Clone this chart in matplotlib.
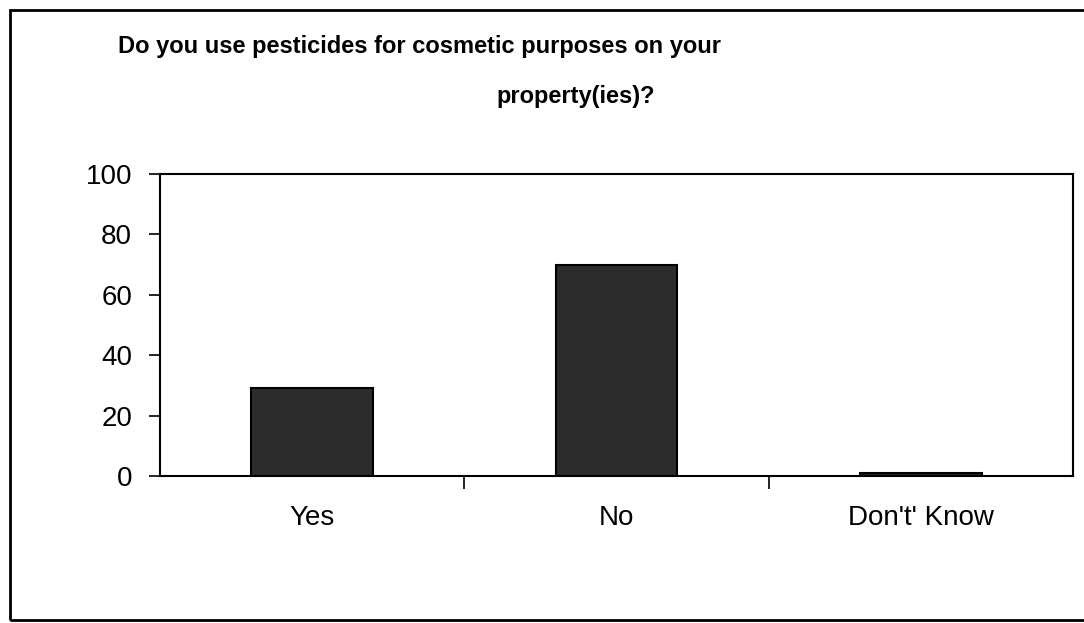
import matplotlib.pyplot as plt
from matplotlib.patches import Rectangle

# survey answers (%)
categories = ['Yes', 'No', "Don't' Know"]
values = [29, 70, 1]
yticks = [0, 20, 40, 60, 80, 100]

plt.rcParams['font.family'] = ['Liberation Sans', 'DejaVu Sans']

fig = plt.figure(figsize=(10.84, 6.23), dpi=100)
ax = fig.add_axes([160/1084, 1-476/623, (1073-160)/1084, (476-174)/623])

x = list(range(len(categories)))
ax.bar(x, values, width=0.4, color='#2c2c2c', edgecolor='black', linewidth=1.5)

ax.set_xlim(-0.5, len(categories)-0.5)
ax.set_ylim(0, 100)
ax.set_yticks(yticks)
ax.tick_params(axis='y', direction='out', length=8, width=1.2, pad=12, labelsize=20)

# labels at the centres, tick marks between the categories
ax.set_xticks(x)
ax.set_xticklabels(categories)
ax.tick_params(axis='x', which='major', length=0, pad=21, labelsize=20)
ax.set_xticks([i + 0.5 for i in x[:-1]], minor=True)
ax.tick_params(axis='x', which='minor', direction='out', length=9, width=1.2)

for s in ax.spines.values():
    s.set_linewidth(1.5)

# title lines sit at different centres in the original
fig.text(420/1084, 1-46/623, 'Do you use pesticides for cosmetic purposes on your',
         ha='center', va='center', fontsize=17, fontweight='bold')
fig.text(576/1084, 1-96/623, 'property(ies)?',
         ha='center', va='center', fontsize=17, fontweight='bold')

# chart frame
fig.patches.append(Rectangle((10/1084, 3/623), 1.2, 1-13/623, transform=fig.transFigure,
                             fill=False, edgecolor='black', linewidth=2))

fig.savefig('out.png', dpi=100)
